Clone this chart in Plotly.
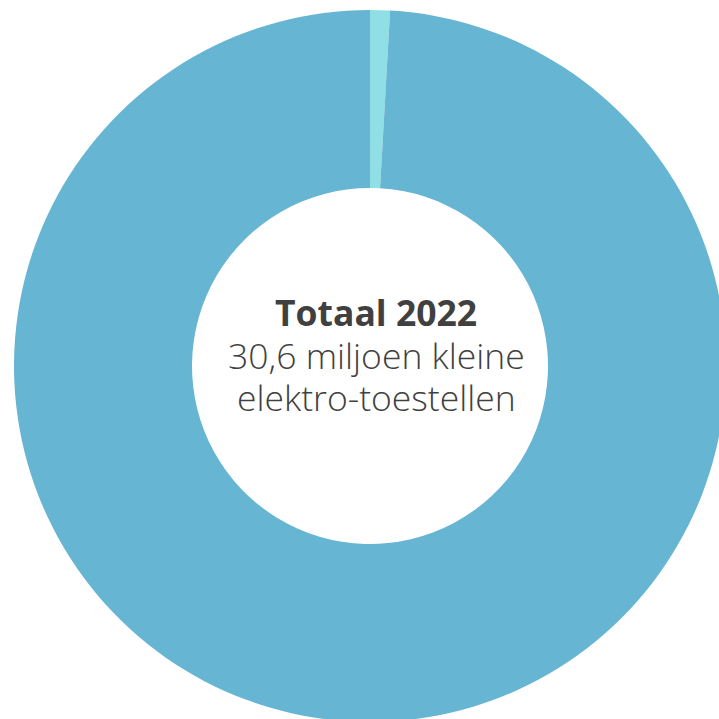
import plotly.graph_objects as go

labels = ["Overig", "Kleine elektro-toestellen"]
values = [0.9, 99.1]
colors = ["#8fdfe5", "#65b5d3"]

title_line = "Totaal 2022"
sub_lines = ["30,6 miljoen kleine", "elektro-toestellen"]

fig = go.Figure(go.Pie(
    labels=labels, values=values, hole=0.5, sort=False,
    direction="clockwise", rotation=0,
    marker=dict(colors=colors, line=dict(width=0)),
    textinfo="none", hoverinfo="label+percent", showlegend=False,
))

lines = ["<b>" + title_line + "</b>"] + sub_lines
shifts = [54, 11, -31]
for txt, sh in zip(lines, shifts):
    fig.add_annotation(
        x=0.5, y=0.5, xref="paper", yref="paper", showarrow=False,
        text=txt, yshift=sh, xshift=6, align="center",
        font=dict(family="Open Sans", size=35.5, color="#404040", weight=300),
    )

fig.update_layout(
    width=726, height=722,
    margin=dict(l=14, r=0, t=10, b=0),
    paper_bgcolor="white", plot_bgcolor="white",
)

fig.write_html("out.html", config={"displayModeBar": False},
               post_script="document.body.style.margin='0';document.body.style.overflow='hidden';document.documentElement.style.overflow='hidden';")
